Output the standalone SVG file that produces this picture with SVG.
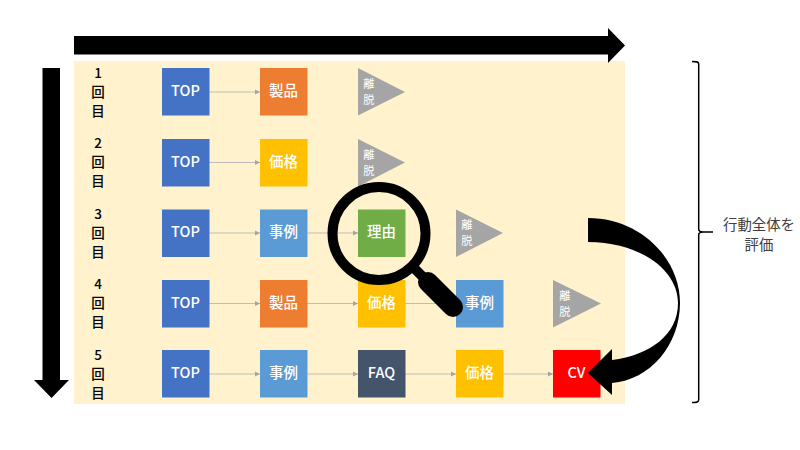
<svg xmlns="http://www.w3.org/2000/svg" width="800" height="450" viewBox="0 0 800 450">
  <style>
    text { font-family: "Noto Sans CJK JP", "Liberation Sans", sans-serif; text-anchor: middle; dominant-baseline: central; }
    .n { font-size: 14.500px; font-weight: 500; fill: #fff; }
    .t { font-size: 11.300px; fill: #fff; }
    .r { font-size: 13.500px; font-weight: 500; fill: #000; }
    .l { font-size: 14.400px; fill: #404040; }
    .c { stroke: #bdbdbd; stroke-width: 1; fill: none; marker-end: url(#tip); }
    .blue { fill: #4472c4; } .orange { fill: #ed7d31; } .yellow { fill: #ffc000; }
    .sky { fill: #5b9bd5; } .green { fill: #70ad47; } .navy { fill: #44546a; } .red { fill: #f00; }
    .gray { fill: #a5a5a5; }
  </style>
  <defs>
    <marker id="tip" markerUnits="userSpaceOnUse" markerWidth="6" markerHeight="6" refX="5" refY="3" orient="auto">
      <path d="M0 0.500L5 3L0 5.500Z" fill="#a5a5a5"/>
    </marker>
  </defs>
  <rect width="800" height="450" fill="#fff"/>
  <rect id="band" x="74" y="61" width="551" height="343" fill="#fff2cc"/>

  <g id="axis-sessions"><path d="M74 36H608V28L625 45.500L608 63V54.500H74Z" fill="#000"/></g>
  <g id="axis-visits"><path d="M42.500 68H60V380H69L51.500 398L34 380H42.500Z" fill="#000"/></g>

  <g id="row-labels">
    <g id="row1"><text class="r" x="98" y="71.500">1</text><text class="r" x="98" y="90.500">回</text><text class="r" x="98" y="109.500">目</text></g>
    <g id="row2"><text class="r" x="98" y="142">2</text><text class="r" x="98" y="161">回</text><text class="r" x="98" y="180">目</text></g>
    <g id="row3"><text class="r" x="98" y="212.500">3</text><text class="r" x="98" y="231.500">回</text><text class="r" x="98" y="250.500">目</text></g>
    <g id="row4"><text class="r" x="98" y="283">4</text><text class="r" x="98" y="302">回</text><text class="r" x="98" y="321">目</text></g>
    <g id="row5"><text class="r" x="98" y="353.500">5</text><text class="r" x="98" y="372.500">回</text><text class="r" x="98" y="391.500">目</text></g>
  </g>

  <g id="connectors">
    <path class="c" d="M209 92H260"/>
    <path class="c" d="M209 162.500H260"/>
    <path class="c" d="M209 233H260"/><path class="c" d="M307 233H358"/>
    <path class="c" d="M209 303.500H260"/><path class="c" d="M307 303.500H358"/><path class="c" d="M405 303.500H456"/>
    <path class="c" d="M209 374H260"/><path class="c" d="M307 374H358"/><path class="c" d="M405 374H456"/><path class="c" d="M503 374H553"/>
  </g>

  <g id="n1a"><rect class="blue" x="162" y="68" width="47.500" height="47.500"/><text class="n" x="185.500" y="89">TOP</text></g>
  <g id="n1b"><rect class="orange" x="260" y="68" width="47.500" height="47.500"/><text class="n" x="283.500" y="89">製品</text></g>
  <g id="n1c"><path class="gray" d="M358 68L405 92L358 115.500Z"/><text class="t" x="369" y="83">離</text><text class="t" x="369" y="99.300">脱</text></g>

  <g id="n2a"><rect class="blue" x="162" y="139" width="47.500" height="47.500"/><text class="n" x="185.500" y="160">TOP</text></g>
  <g id="n2b"><rect class="yellow" x="260" y="139" width="47.500" height="47.500"/><text class="n" x="283.500" y="160">価格</text></g>
  <g id="n2c"><path class="gray" d="M358 139L405 162.500L358 186.500Z"/><text class="t" x="369" y="154">離</text><text class="t" x="369" y="170.300">脱</text></g>

  <g id="n3a"><rect class="blue" x="162" y="209.500" width="47.500" height="47.500"/><text class="n" x="185.500" y="230.500">TOP</text></g>
  <g id="n3b"><rect class="sky" x="260" y="209.500" width="47.500" height="47.500"/><text class="n" x="283.500" y="230.500">事例</text></g>
  <g id="n3c"><rect class="green" x="358" y="209.500" width="47.500" height="47.500"/><text class="n" x="381.500" y="230.500">理由</text></g>
  <g id="n3d"><path class="gray" d="M456 209.500L503 233L456 257Z"/><text class="t" x="467" y="223.500">離</text><text class="t" x="467" y="239.800">脱</text></g>

  <g id="n4a"><rect class="blue" x="162" y="280" width="47.500" height="47.500"/><text class="n" x="185.500" y="301">TOP</text></g>
  <g id="n4b"><rect class="orange" x="260" y="280" width="47.500" height="47.500"/><text class="n" x="283.500" y="301">製品</text></g>
  <g id="n4c"><rect class="yellow" x="358" y="280" width="47.500" height="47.500"/><text class="n" x="381.500" y="301">価格</text></g>
  <g id="n4d"><rect class="sky" x="456" y="280" width="47.500" height="47.500"/><text class="n" x="479.500" y="301">事例</text></g>
  <g id="n4e"><path class="gray" d="M553 280L601 303.500L553 327.500Z"/><text class="t" x="565" y="295">離</text><text class="t" x="565" y="311.300">脱</text></g>

  <g id="n5a"><rect class="blue" x="162" y="350" width="47.500" height="47.500"/><text class="n" x="185.500" y="371">TOP</text></g>
  <g id="n5b"><rect class="sky" x="260" y="350" width="47.500" height="47.500"/><text class="n" x="283.500" y="371">事例</text></g>
  <g id="n5c"><rect class="navy" x="358" y="350" width="47.500" height="47.500"/><text class="n" x="381.500" y="371">FAQ</text></g>
  <g id="n5d"><rect class="yellow" x="456" y="350" width="47.500" height="47.500"/><text class="n" x="479.500" y="371">価格</text></g>
  <g id="n5e"><rect class="red" x="553" y="350" width="47.500" height="47.500"/><text class="n" x="576.500" y="371">CV</text></g>

  <g id="magnifier" fill="none" stroke="#000">
    <circle cx="379" cy="233.500" r="46.500" stroke-width="10"/>
    <path d="M414 268L432 286" stroke-width="10"/>
    <path d="M428 282L453 307" stroke-width="20" stroke-linecap="round"/>
  </g>

  <g id="curved-arrow">
    <path fill="#000" d="M588 218C640 218 680 258 680 303C680 345 650 380 612 383V395L588 373L612 349V360C650 355 678 335 678 303C678 270 640 242 588 242Z"/>
  </g>

  <g id="overall-bracket">
    <path d="M692 61.500C696 61.500 698.700 61.500 698.700 64V229C698.700 231.500 700 232 703 232H713M703 232C700 232 698.700 232.500 698.700 235V400C698.700 402.500 696 402.500 692 402.500" fill="none" stroke="#000" stroke-width="1.500"/>
    <text class="l" x="759" y="223">行動全体を</text>
    <text class="l" x="759" y="243">評価</text>
  </g>
</svg>
